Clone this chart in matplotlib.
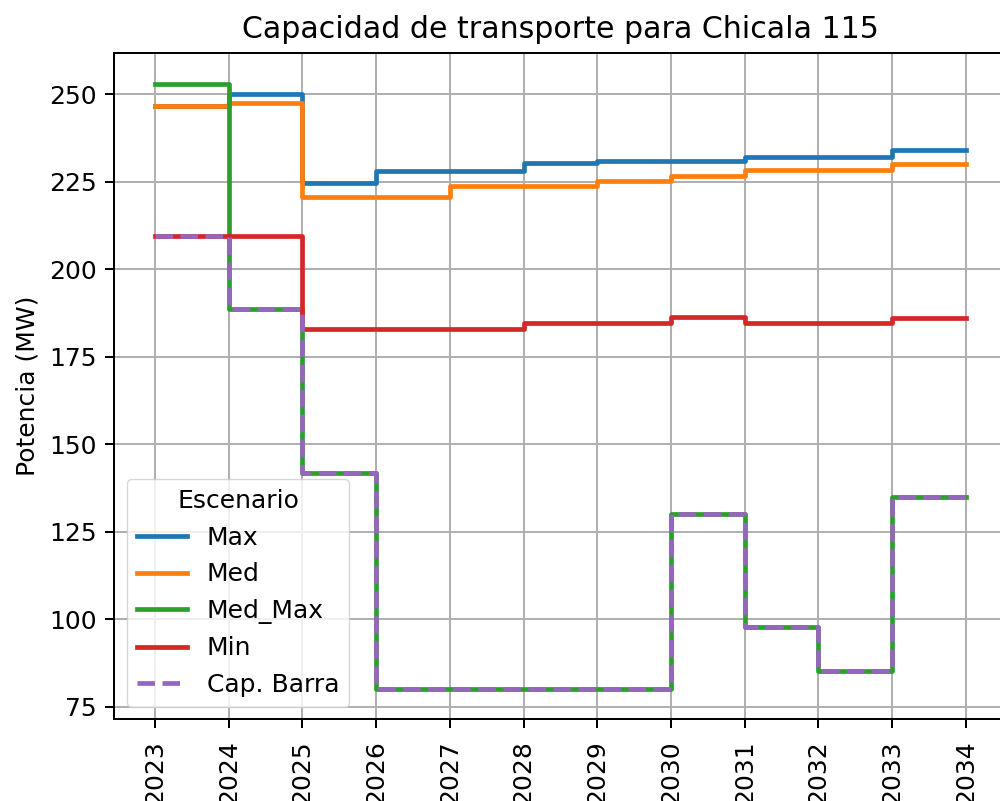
import matplotlib
matplotlib.use("Agg")
import matplotlib.pyplot as plt

# años y valores por escenario (MW)
anios = [2023, 2024, 2025, 2026, 2027, 2028, 2029, 2030, 2031, 2032, 2033, 2034]
cap_max = [246.6, 250.2, 224.8, 228.0, 228.0, 230.4, 231.1, 231.1, 232.1, 232.1, 234.1, 234.1]
cap_med = [246.6, 247.4, 220.8, 220.7, 223.7, 223.7, 225.2, 226.8, 228.5, 228.5, 230.0, 230.0]
cap_med_max = [253.1, 188.8, 141.9, 80.1, 80.1, 80.1, 80.1, 130.1, 97.7, 85.2, 135.1, 135.1]
cap_min = [209.4, 209.4, 183.1, 183.1, 183.1, 184.8, 184.8, 186.3, 184.8, 184.8, 186.1, 186.1]
cap_barra = [209.4, 188.8, 141.9, 80.1, 80.1, 80.1, 80.1, 130.1, 97.7, 85.2, 135.1, 135.1]

s = 1.8  # escala de la figura original
plt.rcParams.update({
    "font.size": 10 * s,
    "axes.linewidth": 0.8 * s,
    "grid.linewidth": 0.8 * s,
    "xtick.major.size": 3.5 * s,
    "ytick.major.size": 3.5 * s,
    "xtick.major.width": 0.8 * s,
    "ytick.major.width": 0.8 * s,
    "xtick.major.pad": 9,
    "ytick.major.pad": 3.5 * s,
    "axes.labelpad": 4 * s,
    "axes.titlepad": 6 * s,
})

fig = plt.figure(figsize=(10, 8.01), dpi=100)
ax = fig.add_axes([0.1144, 0.102, 0.8921, 0.8315])

lw = 3.4
ax.step(anios, cap_max, where="post", lw=lw, color="tab:blue", label="Max")
ax.step(anios, cap_med, where="post", lw=lw, color="tab:orange", label="Med")
ax.step(anios, cap_med_max, where="post", lw=lw, color="tab:green", label="Med_Max")
ax.step(anios, cap_min, where="post", lw=lw, color="tab:red", label="Min")
ax.step(anios, cap_barra, where="post", lw=lw, color="tab:purple", ls="--", label="Cap. Barra")

ax.set_xticks(anios)
ax.set_xticklabels([str(a) for a in anios], rotation=90)
ax.set_yticks([75, 100, 125, 150, 175, 200, 225, 250])
ax.grid(True)
ax.set_ylabel("Potencia (MW)")
ax.set_title("Capacidad de transporte para Chicala 115", fontsize=12 * s)
ax.legend(title="Escenario", loc="lower left")

fig.savefig("out.png", dpi=100)
